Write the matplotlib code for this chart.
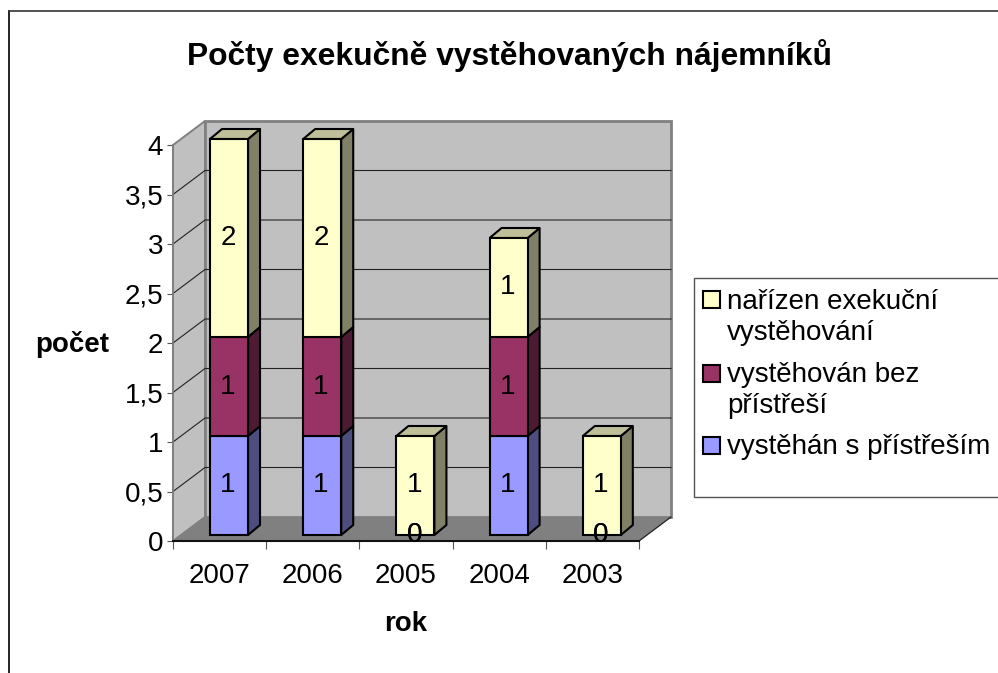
import numpy as np
import matplotlib
matplotlib.use("Agg")
import matplotlib.pyplot as plt
from matplotlib.lines import Line2D
from matplotlib.patches import Polygon, Rectangle

plt.rcParams['font.family'] = ['Liberation Sans', 'DejaVu Sans']

years = ['2007', '2006', '2005', '2004', '2003']
s_prist = [1, 1, 0, 1, 0]
bez_prist = [1, 1, 0, 1, 0]
narizen = [2, 2, 1, 1, 1]
legend_lines = [['nařízen exekuční', 'vystěhování'], ['vystěhován bez', 'přístřeší'], ['vystěhán s přístřeším']]
yticks = [0, 0.5, 1, 1.5, 2, 2.5, 3, 3.5, 4]
ylabels = ['0', '0,5', '1', '1,5', '2', '2,5', '3', '3,5', '4']

W, H = 998, 673
FS = 20
front = ['#9999FF', '#993366', '#FFFFCC']
side = ['#4D4D80', '#4D1A33', '#808066']
top = ['#BFBFE6', '#BF6699', '#BFBF99']

# depth of the fake 3d box, in data units
wall_dx, wall_dy = 32 / 93.2, 24 / 99
bar_dx, bar_dy = 12 / 93.2, 10 / 99
bar_w = 0.408
bar_off, base = 0.101, 6 / 99

fig = plt.figure(figsize=(W / 100, H / 100), dpi=100)
ax = fig.add_axes([173 / W, 1 - 541 / H, 466 / W, 396 / H])
ax.set_xlim(0, 5)
ax.set_ylim(0, 4)
ax.patch.set_visible(False)

n = len(years)
ymax = yticks[-1]

# walls and floor
ax.add_patch(Polygon([(0, 0), (wall_dx, wall_dy), (wall_dx, ymax + wall_dy), (0, ymax)],
                     fc='#C0C0C0', ec='#808080', lw=1.4, clip_on=False, zorder=1))
ax.add_patch(Polygon([(wall_dx, wall_dy), (n + wall_dx, wall_dy), (n + wall_dx, ymax + wall_dy), (wall_dx, ymax + wall_dy)],
                     fc='#C0C0C0', ec='#808080', lw=2, clip_on=False, zorder=1))
ax.add_patch(Polygon([(0, 0), (n, 0), (n + wall_dx, wall_dy), (wall_dx, wall_dy)],
                     fc='#808080', ec='none', clip_on=False, zorder=2))
ax.plot([n, n + wall_dx], [0, wall_dy], color='#222222', lw=0.9, clip_on=False, zorder=2)

for y in yticks[1:-1]:
    ax.plot([0, wall_dx, n + wall_dx], [y, y + wall_dy, y + wall_dy], color='#222222', lw=0.8, clip_on=False, zorder=2)

# bars
for i in range(n):
    x = i + 0.5 + bar_off
    x0, x1 = x - bar_w / 2, x + bar_w / 2
    bottom = base
    vals = [s_prist[i], bez_prist[i], narizen[i]]
    z = 3 + i
    for k, v in enumerate(vals):
        if v > 0:
            ax.add_patch(Polygon([(x1, bottom), (x1 + bar_dx, bottom + bar_dy), (x1 + bar_dx, bottom + v + bar_dy), (x1, bottom + v)],
                                 fc=side[k], ec='k', lw=1.5, clip_on=False, zorder=z, joinstyle='round'))
            ax.bar(x, v, bar_w, bottom=bottom, color=front[k], edgecolor='k', lw=1.5, clip_on=False, zorder=z + 0.1)
        bottom += v
    k = max(j for j, v in enumerate(vals) if v > 0)
    ax.add_patch(Polygon([(x0, bottom), (x1, bottom), (x1 + bar_dx, bottom + bar_dy), (x0 + bar_dx, bottom + bar_dy)],
                         fc=top[k], ec='k', lw=1.5, clip_on=False, zorder=z))
    bottom = base
    for v in vals:
        ax.text(x - 0.012, bottom + v / 2, str(v), ha='center', va='center', fontsize=FS, color='k', zorder=20)
        bottom += v

# axes
for s in ['top', 'right']:
    ax.spines[s].set_visible(False)
ax.spines['left'].set_color('#808080')
ax.spines['left'].set_linewidth(1.2)
ax.spines['bottom'].set_color('#111111')
ax.spines['bottom'].set_linewidth(1.5)
ax.spines['left'].set_zorder(3)
ax.spines['bottom'].set_zorder(3)
ax.set_yticks(yticks)
ax.set_yticklabels(ylabels, fontsize=FS)
ax.tick_params(axis='y', length=4, width=0.8, color='#555555', pad=3)
ax.set_xticks(range(n + 1))
ax.set_xticklabels([])
ax.tick_params(axis='x', which='major', length=6, width=0.8, color='#555555')
ax.set_xticks(np.arange(n) + 0.5, minor=True)
ax.set_xticklabels(years, minor=True, fontsize=FS)
ax.tick_params(axis='x', which='minor', length=0, pad=16)

fig.text(72 / W, 1 - 344 / H, 'počet', fontsize=FS, fontweight='bold', ha='center', va='center')
fig.text(406 / W, 1 - 631 / H, 'rok', fontsize=FS, fontweight='bold', ha='center', va='baseline')
fig.text(510 / W, 1 - 56 / H, 'Počty exekučně vystěhovaných nájemníků', fontsize=22.9, fontweight='bold', ha='center', va='center')

# legend box runs off the right side of the picture
fig.add_artist(Rectangle((694 / W, 1 - 496.5 / H), 320 / W, 218.5 / H, transform=fig.transFigure,
                         fc='white', ec='#555555', lw=1, zorder=0))
swatch_tops = [291, 364.5, 437]
first_base = [309, 382, 454]
for k, lines, sy, by in zip([2, 1, 0], legend_lines, swatch_tops, first_base):
    fig.add_artist(Rectangle((703 / W, 1 - (sy + 17) / H), 17 / W, 17 / H, transform=fig.transFigure,
                             fc=front[k], ec='k', lw=1.5))
    for j, line in enumerate(lines):
        fig.text(727 / W, 1 - (by + j * 30.5) / H, line, fontsize=FS, va='baseline', ha='left')

# chart frame
fig.add_artist(Line2D([8.5 / W, 8.5 / W], [0, 1 - 11 / H], color='k', lw=1.2))
fig.add_artist(Line2D([8.5 / W, 1], [1 - 11 / H, 1 - 11 / H], color='#333333', lw=1.2))

fig.savefig('out.png', dpi=100)
